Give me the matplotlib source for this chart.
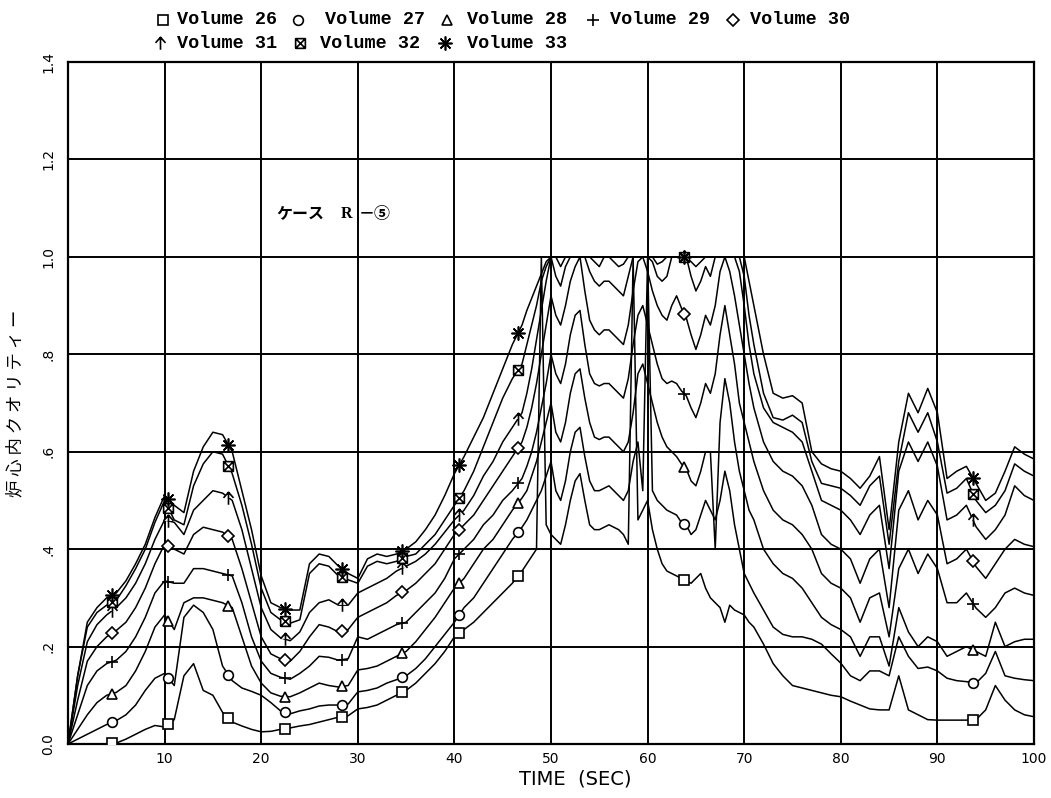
import numpy as np
import matplotlib
matplotlib.use("Agg")
import matplotlib.pyplot as plt
from matplotlib.path import Path
from matplotlib.lines import Line2D

# time axis (s): 1 s steps, 0.5 s through the dry-out period 47-71 s
T = np.concatenate([np.arange(0, 47), np.arange(47, 71.01, 0.5),
                    np.arange(72, 101)])

# core quality per volume, three blocks: 0-46 s, 47-71 s, 72-100 s
V26 = ([0.0, 0.0, 0.0, 0.0, 0.0, 0.002, 0.01, 0.02, 0.03, 0.038,
        0.035, 0.05, 0.14, 0.165, 0.11, 0.10, 0.065, 0.045, 0.037, 0.03,
        0.025, 0.026, 0.03, 0.033, 0.037, 0.04, 0.045, 0.05, 0.055, 0.058,
        0.072, 0.075, 0.08, 0.09, 0.10, 0.11, 0.125, 0.145, 0.165, 0.19,
        0.22, 0.235, 0.25, 0.27, 0.29, 0.31, 0.33]
       + [0.355, 0.37, 0.385, 0.40, 1.0, 0.45, 0.43, 0.42, 0.41, 0.45,
          0.50, 0.54, 0.555, 0.50, 0.45, 0.44, 0.44, 0.445, 0.45, 0.445,
          0.44, 0.43, 0.41, 1.0, 0.46, 0.48, 0.50, 0.44, 0.40, 0.37,
          0.355, 0.35, 0.345, 0.34, 0.335, 0.33, 0.34, 0.35, 0.32, 0.30,
          0.29, 0.28, 0.25, 0.285, 0.275, 0.27, 0.265, 0.25, 0.24]
       + [0.205, 0.165, 0.14, 0.12, 0.115, 0.11, 0.105, 0.10, 0.097,
          0.088, 0.08, 0.072, 0.07, 0.07, 0.14, 0.07, 0.06, 0.05, 0.049,
          0.049, 0.049, 0.049, 0.05, 0.07, 0.12, 0.09, 0.07, 0.06, 0.056])
V27 = ([0.0, 0.01, 0.02, 0.03, 0.04, 0.048, 0.06, 0.08, 0.11, 0.135,
        0.145, 0.12, 0.26, 0.285, 0.27, 0.235, 0.16, 0.13, 0.115, 0.108,
        0.10, 0.085, 0.068, 0.062, 0.068, 0.072, 0.078, 0.08, 0.08, 0.082,
        0.107, 0.11, 0.115, 0.125, 0.132, 0.14, 0.155, 0.175, 0.20, 0.225,
        0.25, 0.28, 0.30, 0.33, 0.36, 0.39, 0.42]
       + [0.445, 0.46, 0.48, 0.50, 0.52, 0.55, 0.58, 0.52, 0.50, 0.54,
          0.60, 0.64, 0.65, 0.59, 0.54, 0.52, 0.52, 0.525, 0.53, 0.52,
          0.51, 0.50, 0.52, 0.58, 0.62, 0.52, 1.0, 0.52, 0.50, 0.49,
          0.48, 0.475, 0.47, 0.455, 0.45, 0.43, 0.44, 0.47, 0.50, 0.48,
          0.46, 0.50, 0.56, 0.52, 0.45, 0.40, 0.35, 0.33, 0.31]
       + [0.275, 0.24, 0.225, 0.22, 0.22, 0.215, 0.205, 0.185, 0.166,
          0.14, 0.13, 0.15, 0.15, 0.14, 0.22, 0.18, 0.155, 0.158, 0.15,
          0.135, 0.13, 0.128, 0.125, 0.145, 0.19, 0.14, 0.135, 0.132, 0.13])
V28 = ([0.0, 0.03, 0.06, 0.085, 0.10, 0.106, 0.12, 0.15, 0.19, 0.24,
        0.265, 0.235, 0.29, 0.30, 0.30, 0.295, 0.29, 0.28, 0.22, 0.16,
        0.125, 0.105, 0.098, 0.097, 0.105, 0.115, 0.125, 0.12, 0.117, 0.12,
        0.152, 0.155, 0.16, 0.17, 0.18, 0.19, 0.21, 0.235, 0.26, 0.29,
        0.32, 0.34, 0.37, 0.40, 0.42, 0.45, 0.48]
       + [0.505, 0.52, 0.55, 0.58, 0.62, 0.66, 0.70, 0.64, 0.62, 0.66,
          0.72, 0.76, 0.77, 0.71, 0.66, 0.63, 0.625, 0.63, 0.63, 0.62,
          0.61, 0.60, 0.62, 0.68, 0.76, 0.78, 0.74, 0.70, 0.66, 0.63,
          0.61, 0.60, 0.59, 0.575, 0.565, 0.54, 0.53, 0.56, 0.60, 0.60,
          0.40, 0.66, 0.75, 0.70, 0.62, 0.56, 0.52, 0.48, 0.46]
       + [0.40, 0.37, 0.35, 0.34, 0.32, 0.29, 0.26, 0.245, 0.235,
          0.22, 0.18, 0.22, 0.22, 0.16, 0.28, 0.23, 0.20, 0.22, 0.21,
          0.18, 0.19, 0.20, 0.19, 0.18, 0.25, 0.20, 0.21, 0.215, 0.215])
V29 = ([0.0, 0.06, 0.12, 0.15, 0.165, 0.172, 0.19, 0.22, 0.26, 0.31,
        0.335, 0.33, 0.33, 0.36, 0.36, 0.355, 0.35, 0.345, 0.29, 0.22,
        0.17, 0.145, 0.137, 0.133, 0.145, 0.16, 0.18, 0.178, 0.172, 0.175,
        0.22, 0.215, 0.225, 0.235, 0.245, 0.25, 0.27, 0.29, 0.31, 0.34,
        0.38, 0.40, 0.42, 0.45, 0.47, 0.50, 0.52]
       + [0.545, 0.57, 0.60, 0.64, 0.69, 0.74, 0.80, 0.76, 0.74, 0.78,
          0.84, 0.88, 0.89, 0.82, 0.76, 0.74, 0.735, 0.74, 0.74, 0.73,
          0.72, 0.71, 0.75, 0.82, 0.88, 0.90, 0.86, 0.82, 0.78, 0.75,
          0.74, 0.745, 0.74, 0.725, 0.715, 0.69, 0.67, 0.70, 0.74, 0.72,
          0.76, 0.84, 0.90, 0.84, 0.78, 0.70, 0.66, 0.62, 0.58]
       + [0.52, 0.48, 0.46, 0.45, 0.43, 0.40, 0.35, 0.33, 0.32,
          0.30, 0.25, 0.30, 0.31, 0.22, 0.36, 0.40, 0.35, 0.39, 0.36,
          0.29, 0.29, 0.31, 0.279, 0.26, 0.28, 0.31, 0.32, 0.31, 0.305])
V30 = ([0.0, 0.09, 0.17, 0.20, 0.22, 0.233, 0.25, 0.28, 0.32, 0.37,
        0.41, 0.40, 0.39, 0.43, 0.445, 0.44, 0.435, 0.42, 0.36, 0.29,
        0.22, 0.185, 0.175, 0.17, 0.19, 0.22, 0.245, 0.24, 0.23, 0.235,
        0.26, 0.27, 0.28, 0.29, 0.305, 0.315, 0.33, 0.35, 0.37, 0.40,
        0.43, 0.45, 0.47, 0.50, 0.53, 0.56, 0.59]
       + [0.62, 0.65, 0.69, 0.74, 0.80, 0.86, 0.92, 0.88, 0.86, 0.90,
          0.95, 0.98, 1.0, 0.93, 0.87, 0.85, 0.84, 0.85, 0.85, 0.84,
          0.83, 0.82, 0.86, 0.93, 0.99, 1.0, 0.97, 0.93, 0.90, 0.88,
          0.87, 0.90, 0.92, 0.895, 0.875, 0.84, 0.81, 0.84, 0.88, 0.86,
          0.90, 0.97, 1.0, 0.97, 0.92, 0.86, 0.80, 0.74, 0.69]
       + [0.62, 0.58, 0.56, 0.55, 0.53, 0.49, 0.43, 0.41, 0.40,
          0.38, 0.33, 0.38, 0.40, 0.28, 0.48, 0.52, 0.46, 0.50, 0.47,
          0.37, 0.38, 0.40, 0.364, 0.34, 0.37, 0.40, 0.42, 0.41, 0.405])
V31 = ([0.0, 0.12, 0.21, 0.245, 0.265, 0.28, 0.30, 0.33, 0.37, 0.42,
        0.46, 0.455, 0.43, 0.48, 0.50, 0.52, 0.515, 0.50, 0.44, 0.36,
        0.28, 0.235, 0.218, 0.212, 0.23, 0.27, 0.29, 0.296, 0.285, 0.285,
        0.31, 0.32, 0.33, 0.34, 0.355, 0.365, 0.375, 0.39, 0.41, 0.435,
        0.46, 0.48, 0.51, 0.55, 0.58, 0.62, 0.65]
       + [0.68, 0.72, 0.77, 0.83, 0.89, 0.95, 1.0, 0.96, 0.94, 0.98,
          1.0, 1.0, 1.0, 1.0, 0.97, 0.95, 0.94, 0.95, 0.95, 0.94,
          0.93, 0.92, 0.96, 1.0, 1.0, 1.0, 1.0, 0.99, 0.96, 0.95,
          0.96, 1.0, 1.0, 1.0, 1.0, 0.96, 0.93, 0.95, 0.98, 0.96,
          1.0, 1.0, 1.0, 1.0, 1.0, 0.97, 0.90, 0.82, 0.76]
       + [0.69, 0.66, 0.65, 0.64, 0.62, 0.56, 0.50, 0.49, 0.48,
          0.46, 0.43, 0.47, 0.49, 0.36, 0.56, 0.62, 0.58, 0.62, 0.57,
          0.46, 0.47, 0.49, 0.446, 0.42, 0.44, 0.47, 0.53, 0.51, 0.50])
V32 = ([0.0, 0.14, 0.24, 0.27, 0.285, 0.295, 0.325, 0.36, 0.40, 0.455,
        0.50, 0.46, 0.45, 0.53, 0.575, 0.60, 0.595, 0.555, 0.49, 0.41,
        0.32, 0.27, 0.255, 0.248, 0.255, 0.35, 0.37, 0.365, 0.345, 0.337,
        0.33, 0.365, 0.375, 0.37, 0.375, 0.385, 0.39, 0.41, 0.43, 0.46,
        0.49, 0.52, 0.56, 0.61, 0.66, 0.71, 0.75]
       + [0.78, 0.82, 0.86, 0.90, 0.95, 0.98, 1.0, 1.0, 0.98, 1.0,
          1.0, 1.0, 1.0, 1.0, 1.0, 0.99, 0.98, 1.0, 1.0, 0.99,
          0.98, 0.985, 1.0, 1.0, 1.0, 1.0, 1.0, 1.0, 0.985, 0.99,
          1.0, 1.0, 1.0, 1.0, 1.0, 0.99, 0.98, 0.99, 1.0, 1.0,
          1.0, 1.0, 1.0, 1.0, 1.0, 1.0, 0.96, 0.88, 0.82]
       + [0.72, 0.67, 0.665, 0.675, 0.66, 0.58, 0.535, 0.53, 0.525,
          0.51, 0.49, 0.53, 0.55, 0.41, 0.58, 0.68, 0.64, 0.68, 0.62,
          0.515, 0.525, 0.545, 0.50, 0.475, 0.49, 0.52, 0.575, 0.56, 0.55])
V33 = ([0.0, 0.14, 0.25, 0.28, 0.30, 0.31, 0.335, 0.37, 0.41, 0.465,
        0.51, 0.49, 0.475, 0.56, 0.61, 0.64, 0.635, 0.60, 0.52, 0.44,
        0.345, 0.29, 0.28, 0.275, 0.275, 0.37, 0.39, 0.385, 0.365, 0.35,
        0.34, 0.38, 0.39, 0.385, 0.39, 0.40, 0.415, 0.44, 0.47, 0.51,
        0.555, 0.59, 0.63, 0.67, 0.72, 0.77, 0.82]
       + [0.86, 0.89, 0.915, 0.94, 0.965, 0.99]
       + [1.0] * 41
       + [0.95, 0.90]
       + [0.80, 0.72, 0.71, 0.715, 0.70, 0.60, 0.575, 0.565, 0.56,
          0.545, 0.525, 0.55, 0.59, 0.44, 0.62, 0.72, 0.68, 0.73, 0.68,
          0.545, 0.56, 0.57, 0.535, 0.50, 0.515, 0.56, 0.61, 0.595, 0.585])

NAMES = ["Volume 26", "Volume 27", "Volume 28", "Volume 29",
         "Volume 30", "Volume 31", "Volume 32", "Volume 33"]
SERIES = [V26, V27, V28, V29, V30, V31, V32, V33]
# times at which the plotter stamped a symbol on each curve
MARK_T = [4.6, 10.4, 16.6, 22.5, 28.4, 34.6, 40.5, 46.6, 63.8, 93.7]

for s in SERIES:
    assert len(s) == len(T)

M, L = Path.MOVETO, Path.LINETO
box_x = Path([(-1, -1), (1, -1), (1, 1), (-1, 1), (-1, -1),
              (-1, -1), (1, 1), (-1, 1), (1, -1)],
             [M, L, L, L, L, M, L, M, L])
up_arrow = Path([(-0.8, 0.1), (0, 1), (0.8, 0.1), (0, 1), (0, -1)],
                [M, L, L, M, L])
MARKERS = ["s", "o", "^", "+", "D", up_arrow, box_x, (8, 2, 0)]
MSIZE = [7, 7, 7, 9, 6, 9, 7, 10]
JP = ["Noto Sans CJK JP", "DejaVu Sans"]

fig = plt.figure(figsize=(10.51, 7.98), dpi=100)
ax = fig.add_axes([68 / 1051, 1 - 744 / 798, 966 / 1051, 682 / 798])

for ys, mk, ms in zip(SERIES, MARKERS, MSIZE):
    ax.plot(T, ys, color="black", lw=1.1, zorder=3)
    my = np.interp(MARK_T, T, ys)
    ax.plot(MARK_T, my, ls="none", marker=mk, ms=ms, mfc="white",
            mec="black", mew=1.2, zorder=4)

ax.set_xlim(0, 100)
ax.set_ylim(0, 1.4)
ax.set_xticks(np.arange(0, 101, 10))
ax.set_xticklabels([""] + [str(v) for v in range(10, 101, 10)])
ax.set_yticks(np.arange(0, 1.41, 0.2))
ax.set_yticklabels(["0.0", ".2", ".4", ".6", ".8", "1.0", "1.2", "1.4"],
                   rotation=90, va="center")
ax.tick_params(length=0, labelsize=10, pad=6)
ax.tick_params(axis="y", pad=9)
ax.grid(True, color="black", lw=1.4)
for sp in ax.spines.values():
    sp.set_linewidth(1.6)
ax.set_axisbelow(True)

ax.set_xlabel("TIME  (SEC)", fontsize=14)
ax.xaxis.set_label_coords(0.525, -0.037)
ax.set_ylabel("炉 心 内 ク オ リ テ ィ ー", fontsize=12.5, family=JP)
ax.yaxis.set_label_coords(-0.045, 0.5)

# case tag inside the frame
ax.text(21.6, 1.088, "ケース", fontsize=11.5, fontweight="bold",
        family=JP, va="center")
ax.text(28.2, 1.088, "R", fontsize=11.5, fontweight="bold",
        family="Liberation Serif", va="center")
ax.text(30.1, 1.088, "－⑤", fontsize=11.5, fontweight="bold",
        family=JP, va="center")

# legend header in two rows above the frame: (symbol x, text x, y) in px
leg_pos = [(163, 177, 20), (298, 325, 20), (447, 467, 20), (593, 610, 20),
           (733, 750, 20), (160, 177, 43), (300, 320, 43), (445, 467, 43)]
for (mx, tx, py), mk, ms, name in zip(leg_pos, MARKERS, MSIZE, NAMES):
    fy = 1 - py / 798
    fig.add_artist(Line2D([mx / 1051], [fy], transform=fig.transFigure,
                          ls="none", marker=mk, ms=ms, mfc="white",
                          mec="black", mew=1.2))
    fig.text(tx / 1051, fy, name, fontsize=13.3, fontweight="bold",
             family="Liberation Mono", va="center", ha="left")

fig.savefig("out.png", dpi=100, facecolor="white")
